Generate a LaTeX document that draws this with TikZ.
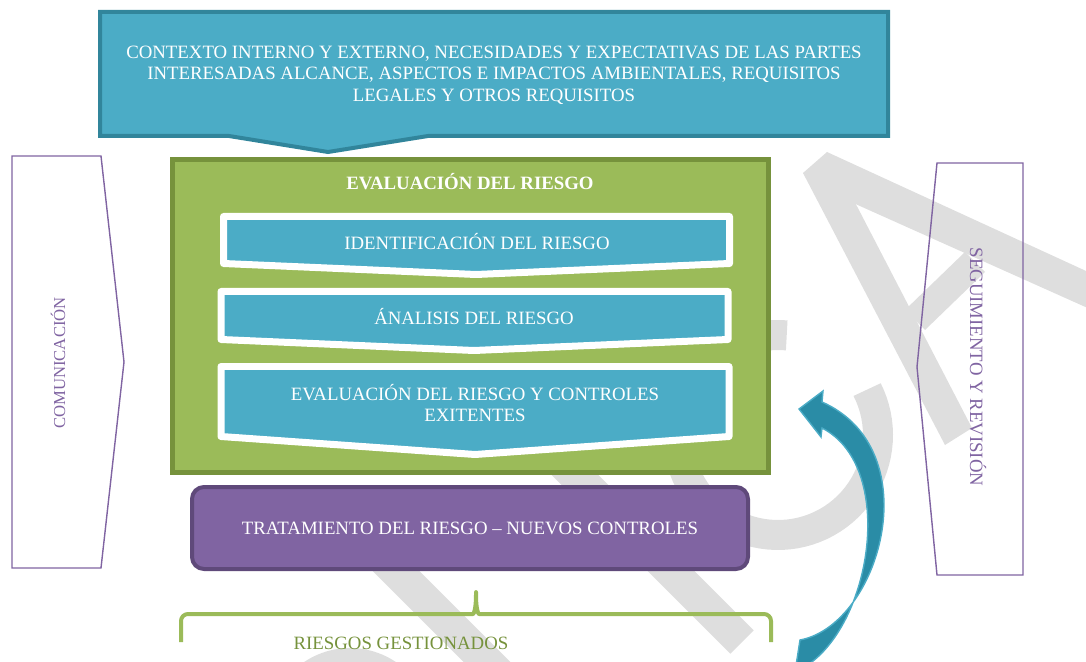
\documentclass[tikz,border=0pt]{standalone}
\usepackage{fontspec}
\setmainfont{Liberation Serif}
\usepackage{tikz}
\usetikzlibrary{positioning}
\definecolor{caqua}{RGB}{75,172,198}
\definecolor{caquad}{RGB}{49,133,155}
\definecolor{carrow}{RGB}{42,140,166}
\definecolor{cgreen}{RGB}{155,187,89}
\definecolor{cgreend}{RGB}{118,146,60}
\definecolor{cviolet}{RGB}{128,100,162}
\definecolor{cvioletd}{RGB}{95,73,122}
\definecolor{cwm}{RGB}{222,222,222}
\tikzset{
  txt/.style={font=\fontsize{10.7}{12.2}\selectfont,align=center,inner sep=0pt},
  whitetxt/.style={txt,text=white},
  ctxbox/.style={fill=caqua,draw=caquad,line width=0.08cm,line join=miter},
  evalbox/.style={fill=cgreen,draw=cgreend,line width=0.1cm},
  stepbox/.style={fill=caqua,draw=white,line width=0.14cm,line join=round},
  tratbox/.style={fill=cviolet,draw=cvioletd,line width=0.08cm,rounded corners=0.24cm},
  sidebox/.style={draw=cviolet,line width=0.8pt},
  sidetxt/.style={txt,text=cviolet},
  brace/.style={draw=cgreen,line width=0.08cm,rounded corners=0.14cm,line join=round},
  % watermark strokes, drawn first
  wm/.style={draw=cwm,line width=0.66cm},
  wmfill/.style={fill=cwm}
}

\begin{document}
\begin{tikzpicture}[x=0.02cm,y=-0.02cm]
  \useasboundingbox (0,0) rectangle (1086,662);
  \clip (0,0) rectangle (1086,662);

  % watermark
  \fill[wmfill] (803,173) -- (827,152) -- (1110,282) -- (1110,318) -- (813,185) -- cycle;
  \fill[wmfill] (803,173) -- (833,160) -- (972,428) -- (945,445) -- cycle;
  \fill[wmfill] (905,310) -- (965,252) -- (985,272) -- (925,330) -- cycle;
  \draw[wm,line width=0.6cm] plot[domain=-27:275,samples=80,variable=\t] ({778+100*cos(\t)},{435+100*sin(\t)});
  \draw[wm] (530,430) -- (742,642);
  \draw[wm] (380,555) -- (500,675);
  \draw[wm,line width=0.6cm] (350,730) circle[radius=1.34cm];

  % side arrows
  \draw[sidebox] (12,156) -- (101,156) -- (124,362) -- (101,568) -- (12,568) -- cycle;
  \node[sidetxt,rotate=90,font=\fontsize{9.5}{11}\selectfont] (comm) at (58,363) {COMUNICACIÓN};
  \draw[sidebox] (937,163) -- (1023,163) -- (1023,575) -- (937,575) -- (917,367) -- cycle;
  \node[sidetxt,rotate=-90] (seg) at (978,367) {SEGUIMIENTO Y REVISIÓN};

  % context
  \draw[ctxbox] (100,12) -- (888,12) -- (888,136) -- (428,136) -- (328,152) -- (229,136) -- (100,136) -- cycle;
  \node[whitetxt] (ctx) at (494,75) {CONTEXTO INTERNO Y EXTERNO, NECESIDADES Y EXPECTATIVAS DE LAS PARTES\\
    INTERESADAS ALCANCE, ASPECTOS E IMPACTOS AMBIENTALES, REQUISITOS\\
    LEGALES Y OTROS REQUISITOS};

  % risk evaluation
  \draw[evalbox] (172.5,159.5) rectangle (768.5,472.5);
  \node[whitetxt,font=\fontsize{10.7}{12.2}\selectfont\bfseries] (evaltit) at (470,182) {EVALUACIÓN DEL RIESGO};
  \draw[stepbox] (223.5,216.5) -- (729.5,216.5) -- (729.5,263.5) -- (476,274.5) -- (223.5,263.5) -- cycle;
  \node[whitetxt] (ident) at (477,242) {IDENTIFICACIÓN DEL RIESGO};
  \draw[stepbox] (221,291.5) -- (728,291.5) -- (728,339.5) -- (474,350.5) -- (221,339.5) -- cycle;
  \node[whitetxt] (anal) at (474,317) {ÁNALISIS DEL RIESGO};
  \draw[stepbox] (221,366.5) -- (729,366.5) -- (729,436.5) -- (475,454.5) -- (221,436.5) -- cycle;
  \node[whitetxt] (evcont) at (475,403) {EVALUACIÓN DEL RIESGO Y CONTROLES\\EXITENTES};

  % treatment
  \draw[tratbox] (192,487) rectangle (748,569);
  \node[whitetxt] (trat) at (470,528) {TRATAMIENTO DEL RIESGO – NUEVOS CONTROLES};

  % managed risks
  \draw[brace] (181,642) -- (181,614) -- (466,614) .. controls (474,614) and (476,608) .. (476,588)
    .. controls (476,608) and (478,614) .. (486,614) -- (771,614) -- (771,642);
  \node[txt,text=cgreend] (gest) at (401,643) {RIESGOS GESTIONADOS};

  % feedback arrow
  \fill[carrow,draw=caqua,line width=0.8pt] (800,640) .. controls (880,625) and (930,450) .. (822,402)
    -- (823,391) -- (799,409) -- (821,437) -- (822,428) .. controls (900,468) and (870,640) .. (795,672) -- cycle;
\end{tikzpicture}
\end{document}
